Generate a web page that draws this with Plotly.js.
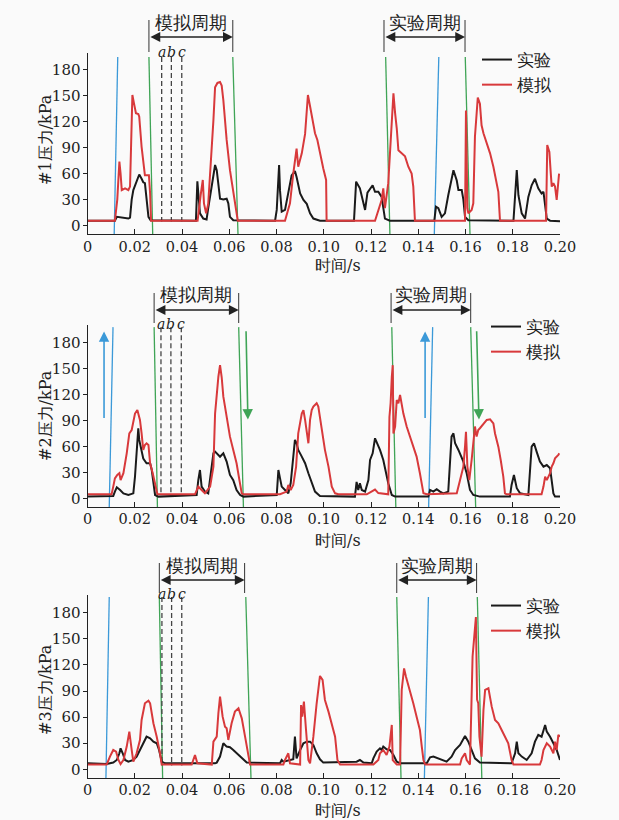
<!DOCTYPE html>
<html>
<head>
<meta charset="utf-8">
<script src="https://cdn.plot.ly/plotly-3.0.1.min.js"></script>
<style>html,body{margin:0;padding:0;background:#fafafa;}#chart{width:619px;height:820px;}</style>
</head>
<body>
<div id="chart"></div>
<script>
// ---------- data: [time (ms), pressure (kPa)] ----------
const p1Exp = [[0,5.5],[11.6,5.5],[12.4,10],[15.2,9],[17.3,8],[18.0,9],[18.7,30],[19.4,41],[20.8,51],[21.9,59],[22.9,54],[23.6,50],[24.3,49],[25.0,29.5],[25.8,10],[26.7,6],
[45.9,5.5],[46.5,51],[47.1,30],[47.6,14],[49.0,8],[50.4,7],[51.1,20],[52.6,47],[54.0,70],[54.7,64],[55.4,45],[56.1,31],[57.5,30],[58.9,31],[59.6,25.6],[60.3,10],[61.7,6],
[79.4,5.5],[80.1,18],[81.1,70],[81.5,40],[82.2,16],[83.6,18],[85.0,39],[86.4,58],[87.8,63],[88.5,56],[90.0,37],[91.4,29.5],[92.8,25],[94.2,14],[95.6,8],[98.4,5.5],
[112.8,5.5],[113.7,50.7],[115.3,43],[116.8,25],[117.5,18],[118.5,38],[119.6,42],[120.7,46.5],[121.7,39],[123.1,39],[124.5,33],[125.2,18],[125.9,8],[128.0,5.5],
[146.8,5.5],[147.5,21.8],[148.5,20],[149.9,10],[151.3,14],[152.7,35],[154.1,52.7],[154.9,64],[156.3,52],[157.0,41],[158.4,41],[159.1,30],[159.8,10],[161.2,6],
[180.3,5.5],[181.0,40],[181.7,64],[182.4,35],[183.8,14],[185.2,8],[186.6,33],[188.0,46.5],[189.4,54],[190.8,43],[192.2,37],[193.0,39],[193.7,25.6],[194.4,8],[195.8,5.5],[200,4.8]];
const p1Sim = [[0,5.5],[11.6,5.5],[12.6,30],[13.5,74],[14.0,60],[14.5,41],[15.9,43],[17.3,41],[18.0,45],[18.6,100],[19.0,151],[19.7,141],[20.5,130],[21.5,129],[21.9,126],[22.9,91],[23.6,72],[24.3,58],[26.0,58],[26.5,37],[26.9,5.5],
[46.6,5.5],[47.9,35],[48.8,52.7],[49.3,25.6],[50.2,14],[51.1,25],[52.6,83.5],[53.3,122],[54.0,160],[55.0,165],[56.1,166],[56.8,162],[57.5,145],[58.2,122],[58.9,99],[60.3,64],[61.7,41],[62.9,22],[63.6,5.5],
[83.6,5.5],[85.7,25.6],[87.1,60],[88.5,89],[89.2,68],[90.7,83.5],[92.1,106],[93.3,151],[94.2,138],[95.6,116],[96.3,106.7],[97.3,99],[98.4,83.5],[99.8,66],[101.0,52.7],[101.2,5.5],
[121.7,5.5],[123.1,18],[124.5,29.5],[125.2,43],[125.9,20],[127.3,49],[128.0,83.5],[129.0,141],[129.5,153],[130.2,130],[130.9,112.5],[131.6,87],[133.0,83.5],[134.4,80],[135.8,68],[137.2,60],[137.9,45],[138.6,5.5],
[159.8,5.5],[160.2,133],[160.8,20],[161.2,14],[162.6,18],[163.3,25.6],[164.0,103],[165.2,148],[166.1,141],[166.8,116],[167.6,106.7],[169.0,95],[170.4,83.5],[171.8,68],[173.2,49],[173.9,39],[174.6,5.5],
[194.1,5.5],[194.6,93],[195.5,85],[196.1,60],[196.5,45],[197.2,49],[197.9,45],[198.6,29.5],[199.3,60],[199.6,60]];
const p2Exp = [[0,1.9],[10.9,2.7],[11.6,7.7],[12.4,12.7],[13.8,9.6],[15.2,5.7],[17.3,3.8],[19.4,5.7],[20.1,25],[20.8,56],[21.5,81],[21.9,67.5],[22.9,56],[23.6,46],[25.0,40.5],[26.5,40.5],[27.2,32.7],[27.9,17.3],[28.6,3.8],[30.0,1.9],
[46.2,3.8],[46.9,21],[47.6,32.7],[48.3,13.5],[49.7,7.7],[51.1,5.7],[51.9,21],[53.3,52],[54.0,54],[55.4,50],[56.1,48],[56.8,50],[57.5,52],[58.9,42.4],[60.3,27],[61.7,21],[63.1,9.6],[64.6,3.8],[66.0,1.9],
[80.1,3.8],[80.8,32.7],[81.5,23],[82.2,13.5],[83.6,9.6],[85.0,5.7],[86.0,17.3],[87.1,44.3],[87.8,67.5],[88.5,63.6],[89.2,55.9],[90.7,48.2],[92.1,40.5],[93.5,28.9],[94.9,17.3],[96.3,7.7],[98.4,2.7],
[113.2,1.9],[113.9,19],[114.6,9.6],[115.3,17.3],[116.1,9.6],[117.5,7.7],[118.9,21],[119.6,44.3],[120.7,52],[121.7,69.4],[122.4,65.5],[123.8,55.9],[125.2,44.3],[126.4,28.9],[127.3,17.3],[128.8,3.8],[130.2,1.9],
[144.3,1.9],[145.0,9.6],[146.4,7.7],[147.8,10.4],[149.2,7.7],[150.6,5.7],[152.7,7.7],[153.4,36.6],[154.1,71.3],[154.9,75.1],[155.6,63.6],[157.0,55.9],[157.7,52],[159.1,42.4],[160.5,28.9],[161.9,9.6],[163.3,3.8],[166.1,1.9],
[178.8,1.9],[179.5,15.4],[180.5,27],[181.7,11.6],[183.1,5.7],[186.6,3.8],[188.0,59.7],[189.0,63.6],[190.1,54],[191.5,42.4],[193.0,36.6],[194.4,38.5],[195.8,34.7],[196.5,21],[197.2,5.7],[197.9,1.9],[200,1.9]];
const p2Sim = [[0,4.6],[10.2,4.6],[10.9,13.5],[11.6,23],[12.6,27],[13.5,29],[14.0,21],[15.2,29],[16.6,52],[17.7,75],[18.7,79],[20.1,98],[21.1,102],[22.2,90.6],[22.9,75],[23.6,56],[24.3,61.7],[25.0,63.6],[25.8,61.7],[26.5,40.5],[27.6,29],[28.6,17.3],[29.6,4.6],
[45.5,4.6],[46.9,13.5],[48.3,9.6],[49.7,5.7],[51.9,13.5],[53.3,36.6],[54.0,98],[54.7,120],[55.4,140.6],[56.1,154],[56.8,140],[57.5,117.5],[58.2,105],[58.9,94.4],[60.3,71.3],[61.7,55.9],[63.1,40.5],[64.3,21],[65.3,5.7],[66.0,4.6],
[81.5,4.6],[84.3,7.7],[85.0,15.4],[86.0,9.6],[87.1,15.4],[88.3,36.6],[89.2,75],[90.7,98],[91.4,102],[92.1,90.6],[92.8,75],[93.5,63.6],[94.2,90.6],[94.9,102],[95.6,106],[97.0,110],[97.7,106],[99.1,83],[100.5,56],[102.0,36.6],[103.4,13.5],[104.8,5.7],[106.2,4.6],
[118.2,4.6],[120.3,8],[121.7,10],[123.1,6],[127.3,4.6],[127.8,94],[128.3,110],[128.8,140],[129.2,154],[129.5,75],[130.2,83],[130.9,113.7],[131.6,110],[132.3,119.5],[133.0,106],[133.7,98],[135.1,83],[136.5,71.3],[137.9,59.7],[139.3,48.2],[140.7,28.9],[141.5,13.5],[142.2,5.7],[143.6,4.6],
[156.3,5.7],[157.7,21],[159.1,36.6],[159.8,60],[160.2,77],[160.8,36.6],[161.6,21],[162.6,44.3],[163.6,75],[164.0,83],[164.7,71.3],[165.4,79],[166.1,81],[167.6,86.7],[169.0,90.6],[170.4,91.4],[171.8,86.7],[172.5,75],[173.9,59.7],[174.9,44.3],[176.0,25],[176.7,5.7],[177.4,4.6],
[192.2,4.6],[193.0,13.5],[193.7,25],[194.4,21],[195.8,28.9],[196.5,36.6],[197.2,40.5],[197.9,46.2],[199.3,50.1],[199.7,52]];
const p3Exp = [[0,6.9],[8.1,6.1],[10.9,7.7],[12.4,10.7],[13.5,18.4],[14.0,24.1],[14.9,18.4],[15.9,10.7],[17.3,8.8],[19.4,10.7],[20.8,14.6],[22.2,22.2],[23.6,28],[25.0,37.5],[26.5,35.6],[27.9,31.8],[29.3,29.9],[30.3,22.2],[31.4,8.8],[32.8,6.9],
[54.0,6.9],[54.7,7.7],[56.1,14.6],[56.8,22.2],[57.5,29.9],[58.9,26.1],[60.3,25.3],[61.7,22.2],[63.1,18.4],[64.6,14.6],[66.0,10.7],[67.4,7.7],
[81.5,6.9],[82.2,10.7],[82.9,8.8],[87.1,11.5],[87.8,37.5],[88.5,12.6],[90.0,22.2],[91.4,29.9],[92.8,31.8],[94.2,31.8],[95.6,28],[97.0,18.4],[98.4,11.5],[99.8,7.7],
[113.9,8.8],[115.3,10.7],[116.8,7.7],[120.3,6.9],[121.0,12.6],[122.4,20.3],[123.8,24.1],[124.5,22.2],[125.2,26.1],[126.6,23],[128.0,22.2],[129.5,16.5],[130.9,8.8],[132.3,6.9],
[143.6,6.9],[145.0,13.8],[146.4,14.6],[148.5,12.6],[149.9,10.7],[152.0,8.8],[154.1,14.6],[155.6,22.2],[157.7,28],[159.8,38.3],[161.2,31.8],[162.6,22.2],[164.0,12.6],[166.1,7.7],
[179.5,6.9],[181.0,18.4],[181.7,31.8],[182.4,18.4],[183.8,14.6],[185.9,10.7],[188.0,18.4],[189.4,31.8],[190.8,39.5],[192.2,37.5],[193.7,51],[194.4,43.3],[195.8,37.5],[197.2,29.9],[198.6,22.2],[200,10.7]];
const p3Sim = [[0,5.4],[8.1,5.4],[9.5,14.6],[10.9,22.2],[12.1,20.3],[13.1,10.7],[14.0,6.1],[15.2,10.7],[16.6,26.1],[17.7,43.3],[18.7,22.2],[19.4,8.8],[20.8,18.4],[22.2,33.7],[22.9,56.7],[23.6,68.2],[24.3,75.9],[25.8,78.9],[26.5,75.9],[27.9,52.9],[29.3,37.5],[30.7,18.4],[31.4,5.4],
[44.1,5.4],[44.8,12.6],[45.5,16.5],[46.5,6.9],[52.6,5.4],[53.3,31.8],[54.7,37.5],[55.4,64.4],[56.1,83.5],[57.2,60.5],[58.2,49],[58.9,47.1],[59.6,33.7],[61.0,52.9],[62.4,66.3],[63.9,70.1],[65.3,58.6],[66.7,37.5],[68.1,14.6],[68.8,5.4],
[82.9,5.4],[83.6,10.7],[85.0,18.4],[85.7,6.9],[90.0,5.4],[90.4,73.9],[90.9,60.5],[91.6,77.8],[92.5,45.2],[93.5,10.7],[94.2,6.9],[95.6,37.5],[97.0,75.9],[98.4,107.3],[99.5,102.7],[100.5,79.7],[102.0,66.3],[103.4,52.9],[104.8,37.5],[105.8,10.7],[106.9,5.4],
[121.0,5.4],[123.1,10.7],[123.8,18.4],[125.2,22.2],[126.6,16.5],[127.8,26.1],[128.8,51],[129.2,10.7],[130.9,5.4],[132.3,5.4],[133.0,91.2],[134.0,116],[134.8,106.5],[136.5,91.2],[137.9,75.9],[139.3,60.5],[140.7,45.2],[141.5,26.1],[142.2,10.7],[142.9,5.4],
[157.7,5.4],[158.4,12.6],[159.8,18.4],[160.5,10.7],[161.9,5.4],[163.0,130],[163.7,158],[164.4,175],[164.9,80],[165.4,76],[165.9,37.5],[166.8,14.6],[167.6,68.2],[168.3,91.2],[169.7,93.1],[171.1,72],[172.5,56.7],[173.9,52.9],[175.3,45.2],[176.7,37.5],[178.1,29.9],[179.5,10.7],[180.3,5.4],
[191.5,5.4],[192.2,10.7],[193.0,22.2],[194.4,29.9],[195.8,26.1],[197.2,18.4],[197.9,31.8],[198.6,22.2],[199.3,39.5],[200,37.5]];

// marker lines (time in s): [top, bottom] pairs
const p1Blue  = [[0.0128,0.0113],[0.1487,0.1468]];
const p1Green = [[0.0260,0.0276],[0.0615,0.0637],[0.1262,0.1280],[0.1599,0.1619]];
const p2Blue  = [[0.0108,0.0092],[0.1461,0.1444]];
const p2Green = [[0.0282,0.0296],[0.0640,0.0660],[0.1288,0.1305],[0.1622,0.1643]];
const p3Blue  = [[0.0092,0.0078],[0.1443,0.1426]];
const p3Green = [[0.0304,0.0318],[0.0670,0.0692],[0.1309,0.1327],[0.1650,0.1669]];
const p1Abc = [0.0314,0.0355,0.0399];
const p2Abc = [0.0311,0.0353,0.0397];
const p3Abc = [0.0315,0.0356,0.0399];
const p1SimPeriod = [0.0260,0.0615], p1ExpPeriod = [0.1255,0.1598];
const p2SimPeriod = [0.0282,0.0640], p2ExpPeriod = [0.1285,0.1622];
const p3SimPeriod = [0.0304,0.0665], p3ExpPeriod = [0.1309,0.1647];
// direction arrows in panel 2: [x tail, x tip, y tail, y tip]
const p2BlueArrows  = [[0.0070,0.0070,91,193],[0.1429,0.1429,91,193]];
const p2GreenArrows = [[0.0671,0.0679,195,91],[0.1647,0.1657,195,91]];

const xTicks = [0,0.02,0.04,0.06,0.08,0.10,0.12,0.14,0.16,0.18,0.20];
const xTickText = ['0','0.02','0.04','0.06','0.08','0.10','0.12','0.14','0.16','0.18','0.20'];
const yTicks = [0,30,60,90,120,150,180];
const yTitles = ['#1压力/kPa','#2压力/kPa','#3压力/kPa'];
const legendNames = ['实验','模拟'];

// ---------- layout geometry (pixels) ----------
const W = 619, H = 820;
const PX = x => x / W, PY = y => 1 - y / H;
const panels = [
  {exp:p1Exp, sim:p1Sim, blue:p1Blue, green:p1Green, abc:p1Abc, simP:p1SimPeriod, expP:p1ExpPeriod, lineTop:195,
   yTop:52.7, yBot:234.1, barTop:20, barBot:52, arrowY:37, textY:22, abcY:52, yTitleY:140, xTitleY:265, legY:42},
  {exp:p2Exp, sim:p2Sim, blue:p2Blue, green:p2Green, abc:p2Abc, simP:p2SimPeriod, expP:p2ExpPeriod, lineTop:198,
   yTop:325.4, yBot:506.9, barTop:293, barBot:323, arrowY:310, textY:294, abcY:323.5, yTitleY:416, xTitleY:540, legY:309},
  {exp:p3Exp, sim:p3Sim, blue:p3Blue, green:p3Green, abc:p3Abc, simP:p3SimPeriod, expP:p3ExpPeriod, lineTop:198,
   yTop:595.3, yBot:778.0, barTop:563, barBot:593, arrowY:580, textY:565, abcY:593.5, yTitleY:690, xTitleY:810, legY:588}
];
const legendX = [477, 486, 486];

const serif = 'DejaVu Serif';
const BLACK = '#1a1a1a', RED = '#d8393b', GREEN = '#3fa456', BLUE = '#3b99d8', DASH = '#444';

const traces = [];
const layout = {
  width: W, height: H,
  paper_bgcolor: '#fafafa', plot_bgcolor: '#fafafa',
  margin: {l:0, r:0, t:0, b:0},
  showlegend: true,
  font: {family: serif, color: '#222'},
  annotations: [], shapes: []
};
function segs(pairs, top, bot) {
  const x = [], y = [];
  pairs.forEach(p => { x.push(p[0], p[1], null); y.push(top, bot, null); });
  return {x, y};
}
panels.forEach((p, i) => {
  const n = i === 0 ? '' : String(i + 1);
  const xa = 'x' + n, ya = 'y' + n, leg = 'legend' + n;
  const b = segs(p.blue, p.lineTop, -10);
  traces.push({x:b.x, y:b.y, xaxis:xa, yaxis:ya, mode:'lines', line:{color:BLUE, width:1.3}, showlegend:false, hoverinfo:'skip'});
  const g = segs(p.green, p.lineTop, -10);
  traces.push({x:g.x, y:g.y, xaxis:xa, yaxis:ya, mode:'lines', line:{color:GREEN, width:1.3}, showlegend:false, hoverinfo:'skip'});
  const dx = [], dy = [];
  p.abc.forEach(t => { dx.push(t, t, null); dy.push(p.lineTop, 4.5, null); });
  traces.push({x:dx, y:dy, xaxis:xa, yaxis:ya, mode:'lines', line:{color:DASH, width:1.3, dash:'5px,3px'}, showlegend:false, hoverinfo:'skip'});
  traces.push({x:p.exp.map(d=>d[0]/1000), y:p.exp.map(d=>d[1]), xaxis:xa, yaxis:ya, mode:'lines',
    line:{color:BLACK, width:2}, name:legendNames[0], legend:leg});
  traces.push({x:p.sim.map(d=>d[0]/1000), y:p.sim.map(d=>d[1]), xaxis:xa, yaxis:ya, mode:'lines',
    line:{color:RED, width:2}, name:legendNames[1], legend:leg});
  layout['xaxis' + n] = {
    domain:[PX(87.5), PX(560)], range:[0, 0.2], anchor:ya,
    tickvals:xTicks, ticktext:xTickText, ticks:'inside', ticklen:5, tickcolor:'#222',
    showline:true, linecolor:'#222', linewidth:1, showgrid:false, zeroline:false,
    ticklabelstandoff:-1, tickfont:{family:serif, size:14.5, color:'#222'}
  };
  layout['yaxis' + n] = {
    domain:[PY(p.yBot), PY(p.yTop)], range:[-10, 200], anchor:xa,
    tickvals:yTicks, ticks:'outside', ticklen:4, tickcolor:'#222',
    showline:true, linecolor:'#222', linewidth:1, showgrid:false, zeroline:false,
    ticklabelstandoff:-1, tickfont:{family:serif, size:15, color:'#222'}
  };
  layout[leg] = {
    x:PX(legendX[i]), y:PY(p.legY), xanchor:'left', yanchor:'top',
    bgcolor:'rgba(0,0,0,0)', borderwidth:0, itemwidth:30, tracegroupgap:0,
    font:{family:serif, size:17, color:'#222'}
  };
  layout.annotations.push({xref:'paper', yref:'paper', x:PX(338), y:PY(p.xTitleY), text:'时间/s', showarrow:false,
    font:{family:serif, size:16, color:'#222'}, xanchor:'center', yanchor:'middle'});
  layout.annotations.push({xref:'paper', yref:'paper', x:PX(45), y:PY(p.yTitleY), text:yTitles[i], textangle:-90, showarrow:false,
    font:{family:serif, size:16, color:'#222'}, xanchor:'center', yanchor:'middle'});
  [[p.simP, '模拟周期'], [p.expP, '实验周期']].forEach(([per, label]) => {
    per.forEach(t => layout.shapes.push({type:'line', xref:xa, yref:'paper', x0:t, x1:t, y0:PY(p.barTop), y1:PY(p.barBot),
      line:{color:'#333', width:1}}));
    layout.annotations.push({xref:xa, yref:'paper', x:per[1], y:PY(p.arrowY), axref:xa, ax:per[0], ayref:'pixel', ay:0,
      text:'', showarrow:true, arrowside:'end+start', arrowhead:2, arrowsize:1.4, arrowwidth:1.4, arrowcolor:'#222',
      standoff:0, startstandoff:0});
    layout.annotations.push({xref:xa, yref:'paper', x:(per[0]+per[1])/2, y:PY(p.textY), text:label, showarrow:false,
      font:{family:serif, size:18, color:'#222'}, xanchor:'center', yanchor:'middle'});
  });
  ['a','b','c'].forEach((s, k) => layout.annotations.push({xref:xa, yref:'paper', x:p.abc[k], y:PY(p.abcY),
    text:'<i>' + s + '</i>', showarrow:false, font:{family:serif, size:14, color:'#222'}, xanchor:'center', yanchor:'middle'}));
  if (i === 1) {
    p2BlueArrows.forEach(a => layout.annotations.push({xref:xa, yref:ya, axref:xa, ayref:ya, x:a[1], y:a[3], ax:a[0], ay:a[2],
      text:'', showarrow:true, arrowhead:2, arrowsize:1.3, arrowwidth:1.6, arrowcolor:BLUE, standoff:0}));
    p2GreenArrows.forEach(a => layout.annotations.push({xref:xa, yref:ya, axref:xa, ayref:ya, x:a[1], y:a[3], ax:a[0], ay:a[2],
      text:'', showarrow:true, arrowhead:2, arrowsize:1.3, arrowwidth:1.6, arrowcolor:GREEN, standoff:0}));
  }
});
Plotly.newPlot('chart', traces, layout, {displayModeBar:false, staticPlot:true});
</script>
</body>
</html>
